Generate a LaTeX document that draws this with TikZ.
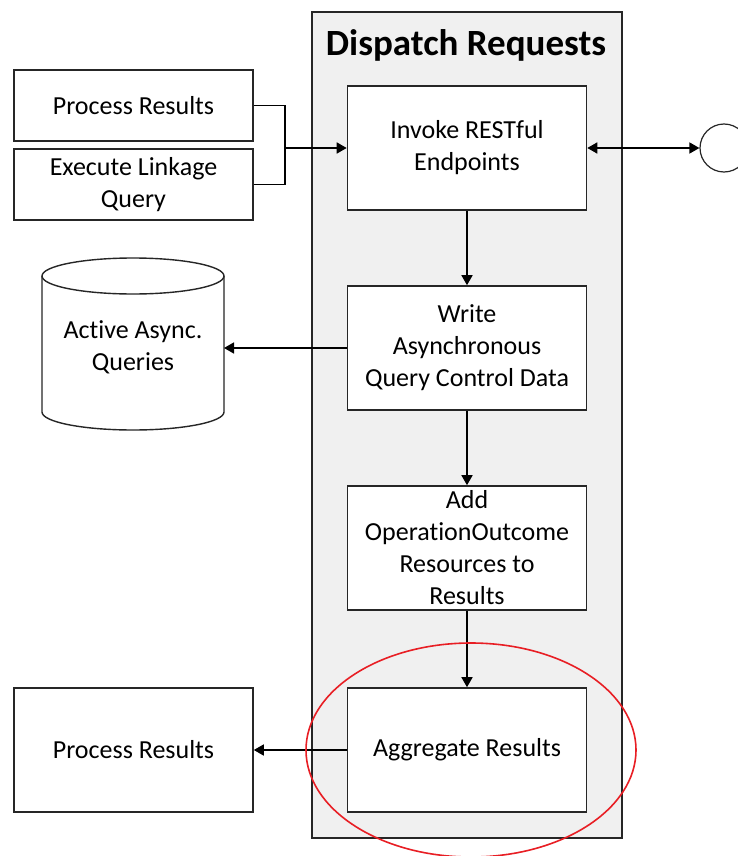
\documentclass[tikz,border=0pt]{standalone}
\usepackage{fontspec}
\setmainfont{Carlito}[Ligatures=NoCommon]
\usetikzlibrary{arrows.meta}
\definecolor{lanegray}{RGB}{240,240,240}
\definecolor{linegray}{RGB}{38,38,38}
\definecolor{ringred}{RGB}{232,30,36}

\begin{document}
\begin{tikzpicture}[x=1pt,y=-1pt,
  box/.style={draw=linegray,line width=1.6pt,fill=white,align=center,inner sep=2pt,
    minimum width=239pt,minimum height=124pt,font=\fontsize{26}{32}\selectfont},
  smallbox/.style={box,minimum height=71pt},
  arr/.style={line width=1.6pt,-{Triangle[length=10pt,width=11pt]}}]
  \useasboundingbox (0,0) rectangle (737,856);
  % swimlane
  \draw [draw=linegray,line width=1.4pt,fill=lanegray] (312,12) rectangle (622,838);
  \node (title) at (466,45) {\fontsize{37}{40}\selectfont\bfseries Dispatch Requests};
  % lane steps
  \node [box] (invoke) at (467,148) {Invoke RESTful\\Endpoints};
  \node [box] (write) at (467,348) {Write\\Asynchronous\\Query Control Data};
  \node [box] (outcome) at (467,548) {Add\\OperationOutcome\\Resources to\\Results};
  \node [box] (aggregate) at (467,750) {Aggregate Results};
  % outside the lane
  \node [smallbox] (procA) at (133.5,105.5) {Process Results};
  \node [smallbox] (linkage) at (133.5,184.5) {Execute Linkage\\Query};
  \node [box] (procB) at (133.5,750) {Process Results};
  \node [draw=linegray,line width=1.2pt,circle,minimum size=48pt,inner sep=0pt,fill=white] (ext) at (724,148) {};
  % store
  \draw [draw=linegray,line width=1.4pt,fill=white] (42,276) -- (42,412)
    arc [start angle=180,end angle=360,x radius=91pt,y radius=18pt] -- (224,276);
  \draw [draw=linegray,line width=1.4pt,fill=white] (133,276) ellipse [x radius=91pt,y radius=18pt];
  \node [align=center,inner sep=0pt,minimum width=182pt,minimum height=100pt,
    font=\fontsize{26}{32}\selectfont] (store) at (133,347) {Active Async.\\Queries};
  % connectors
  \coordinate (join) at (285,148);
  \draw [line width=1.6pt] (procA.east) -| (join);
  \draw [line width=1.6pt] (linkage.east) -| (join);
  \draw [arr] (join) -- (invoke.west);
  \draw [arr,{Triangle[length=10pt,width=11pt]}-{Triangle[length=10pt,width=11pt]}] (invoke.east) -- (ext.west);
  \draw [arr] (invoke) -- (write);
  \draw [arr] (write.west) -- (224,348);
  \draw [arr] (write) -- (outcome);
  \draw [arr] (outcome) -- (aggregate);
  \draw [arr] (aggregate) -- (procB);
  % highlight
  \draw [ringred,line width=1.6pt] (471,750) ellipse [x radius=165pt,y radius=107pt];
\end{tikzpicture}
\end{document}
